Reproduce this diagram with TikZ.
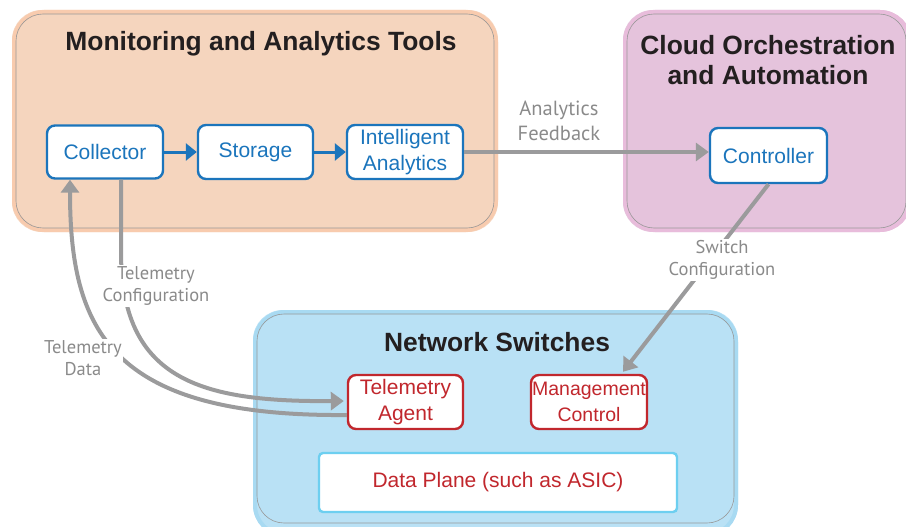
\documentclass[tikz,border=0pt]{standalone}
\usepackage{fontspec}
\setmainfont{Liberation Sans}
\newfontfamily\lblfont{PT Sans}
\usetikzlibrary{arrows.meta,calc}
\definecolor{orfill}{HTML}{F5D5BE}
\definecolor{oredge}{HTML}{F8CBAE}
\definecolor{pufill}{HTML}{E5C3DC}
\definecolor{puedge}{HTML}{E8BCDB}
\definecolor{blfill}{HTML}{B9E1F5}
\definecolor{bledge}{HTML}{A8DAF2}
\definecolor{nblue}{HTML}{1B75BC}
\definecolor{nred}{HTML}{C1272D}
\definecolor{dpblue}{HTML}{6DCFF0}
\definecolor{arrgray}{HTML}{9B9B9C}
\definecolor{lblgray}{HTML}{8A8A8A}
\definecolor{ttl}{HTML}{231F20}
\tikzset{
  group/.style={line width=4pt, rounded corners=30pt},
  inner line/.style={draw=gray!80, line width=0.6pt, rounded corners=27pt},
  title/.style={text=ttl, font=\fontsize{26.4}{30}\selectfont\bfseries, align=center},
  bluebox/.style={draw=nblue, fill=white, line width=2.4pt, rounded corners=8pt,
    text=nblue, font=\fontsize{21}{26}\selectfont, align=center, inner sep=0pt},
  redbox/.style={draw=nred, fill=white, line width=2.4pt, rounded corners=8pt,
    text=nred, font=\fontsize{21}{26}\selectfont, align=center, inner sep=0pt},
  dpbox/.style={draw=dpblue, fill=white, line width=2.4pt, rounded corners=4pt,
    text=nred, font=\fontsize{21}{26}\selectfont, align=center, inner sep=0pt},
  bluearr/.style={draw=nblue, line width=3pt, -{Triangle[length=11pt,width=17pt]}},
  grayarr/.style={draw=arrgray, line width=4pt, -{Triangle[length=13pt,width=18pt]}},
  lbl/.style={text=lblgray, font=\lblfont\fontsize{18.5}{22.5}\selectfont, align=center, fill=white, inner sep=1pt},
}
\begin{document}
\begin{tikzpicture}[x=1pt,y=-1pt]
\useasboundingbox (0,0) rectangle (906,527);
% group boxes
\fill[orfill, rounded corners=30pt] (12,10) rectangle (498,232);
\draw[group, draw=oredge] (14,12) rectangle (496,230);
\draw[inner line] (16,14) rectangle (494,228);
\fill[pufill, rounded corners=30pt] (623,10) rectangle (910,232);
\draw[group, draw=puedge] (625,12) rectangle (910,230);
\draw[inner line] (627,14) rectangle (906,228);
\fill[blfill, rounded corners=30pt] (253,310) rectangle (738,535);
\draw[group, draw=bledge] (255,312) rectangle (736,535);
\draw[inner line] (257,314) rectangle (734,523);
% titles
\node[title] (t1) at (261,44) {Monitoring and Analytics Tools};
\node[title, text depth=0pt, inner sep=0pt] (t2) at (768,60) {Cloud Orchestration\\and Automation};
\node[title] (t3) at (497,342) {Network Switches};
% nodes
\node[bluebox, minimum width=116pt, minimum height=53pt] (col) at (105,152) {Collector};
\node[bluebox, minimum width=115pt, minimum height=54pt] (sto) at (255.5,152) {Storage};
\node[bluebox, minimum width=116pt, minimum height=54pt] (ana) at (405,152) {Intelligent\\Analytics};
\node[bluebox, minimum width=117pt, minimum height=55pt] (ctl) at (768.5,155.5) {Controller};
\node[redbox, minimum width=115pt, minimum height=54pt] (agt) at (405.5,402) {Telemetry\\Agent};
\node[redbox, minimum width=116pt, minimum height=54pt, font=\fontsize{19.5}{26}\selectfont] (mgt) at (589,402) {Management\\Control};
\node[dpbox, minimum width=358pt, minimum height=59pt] (dp) at (498,482.5) {Data Plane (such as ASIC)};
% blue arrows
\draw[bluearr] (col.east) -- (sto.west);
\draw[bluearr] (sto.east) -- (ana.west);
% gray arrows
\draw[grayarr] (ana.east) -- (ana.east -| ctl.west);
\node[lbl, fill=none, font=\lblfont\fontsize{20.5}{25}\selectfont] (lfb) at (559,121) {Analytics\\Feedback};
\draw[grayarr] (ctl.south) -- ($(mgt.north)+(34,-2)$);
\node[lbl] (lsw) at (722,260) {Switch\\Configuration};
\draw[grayarr] ($(col.south)+(16,0)$) -- ($(col.south)+(16,72)$)
   .. controls ($(col.south)+(16,200)$) and (200,402) .. ($(agt.west)+(-3,-1)$);
\node[lbl] (ltc) at (156,286) {Telemetry\\Configuration};
\draw[grayarr] ($(agt.west)+(0,13)$) .. controls (110,417) and (70,330) .. ($(col.south)+(-35,0)$);
\node[lbl] (ltd) at (83,358) {Telemetry\\Data};
\end{tikzpicture}
\end{document}
